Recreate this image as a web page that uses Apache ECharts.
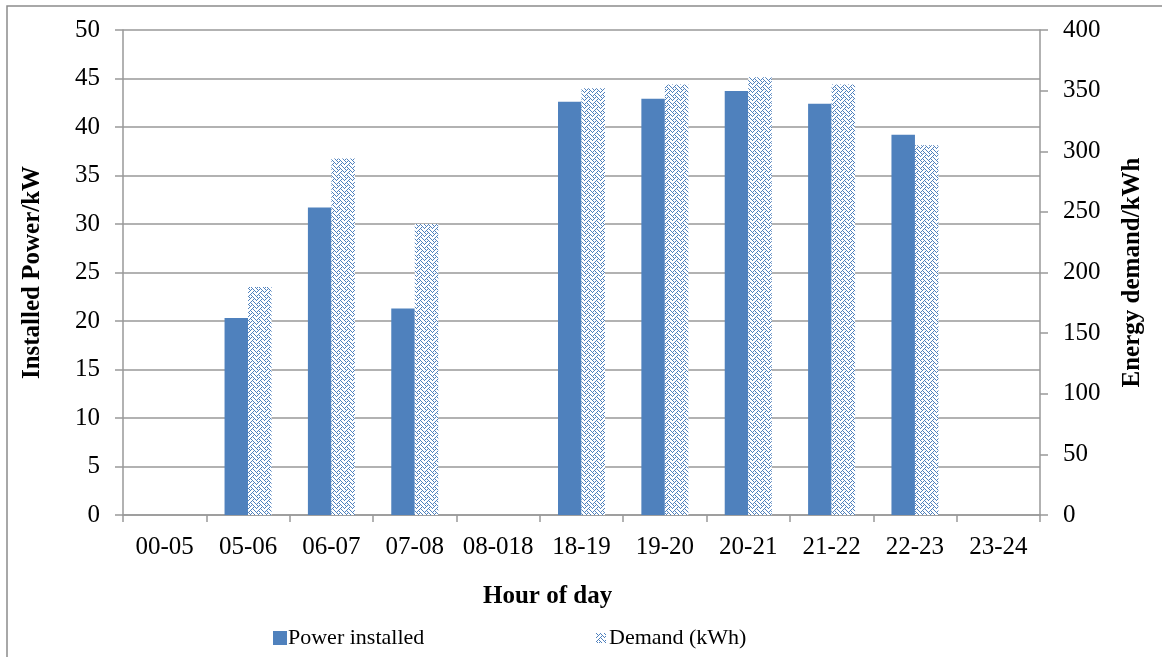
<!DOCTYPE html>
<html>
<head>
<meta charset="utf-8">
<script src="https://cdn.jsdelivr.net/npm/echarts@6/dist/echarts.min.js"></script>
<style>html,body{margin:0;padding:0;background:#fff;}#c{width:1162px;height:657px;}</style>
</head>
<body>
<div id="c"></div>
<script>
var categories = ['00-05','05-06','06-07','07-08','08-018','18-19','19-20','20-21','21-22','22-23','23-24'];
var powerInstalled = [0, 20.3, 31.7, 21.3, 0, 42.6, 42.9, 43.7, 42.4, 39.2, 0];
var demandKWh = [0, 188, 294, 240, 0, 352, 355, 361, 355, 305, 0];
var leftTicks = {min: 0, max: 50, interval: 5};
var rightTicks = {min: 0, max: 400, interval: 50};

function makePattern() {
  var rows = [0x88, 0x54, 0x22, 0x45, 0x88, 0x14, 0x22, 0x51];
  var c = document.createElement('canvas');
  c.width = 8; c.height = 8;
  var g = c.getContext('2d');
  g.fillStyle = '#ffffff';
  g.fillRect(0, 0, 8, 8);
  g.fillStyle = '#4f81bd';
  for (var y = 0; y < 8; y++) {
    for (var x = 0; x < 8; x++) {
      if (rows[y] & (0x80 >> x)) g.fillRect(x, y, 1, 1);
    }
  }
  return c;
}
var pat = makePattern();

var font = 'Liberation Serif';
var chart = echarts.init(document.getElementById('c'), null, {renderer: 'canvas'});
chart.setOption({
  animation: false,
  backgroundColor: '#fff',
  grid: {left: 123, right: 122, top: 30, bottom: 142, containLabel: false},
  legend: [
    {data: ['Power installed'], left: 268, top: 622, itemWidth: 14, itemHeight: 14, icon: 'rect',
     textStyle: {fontFamily: font, fontSize: 22, color: '#000', padding: [0, 0, 0, -4]}},
    {data: ['Demand (kWh)'], left: 591, top: 622, itemWidth: 10, itemHeight: 10, icon: 'rect',
     textStyle: {fontFamily: font, fontSize: 22, color: '#000', padding: [0, 0, 0, -2]}}
  ],
  graphic: [
    {type: 'rect', shape: {x: 7, y: 6, width: 1200, height: 700}, style: {fill: 'none', stroke: '#8c8c8c', lineWidth: 1.5}, silent: true},
    {type: 'text', left: 483, top: 584, style: {text: 'Hour of day', font: 'bold 25px "Liberation Serif"', fill: '#000'}}
  ],
  xAxis: {
    type: 'category', data: categories,
    axisLine: {lineStyle: {color: '#999', width: 1.5}},
    axisTick: {show: true, length: 7, lineStyle: {color: '#999', width: 1.5}},
    axisLabel: {fontFamily: font, fontSize: 25, color: '#000', margin: 20, interval: 0}
  },
  yAxis: [
    {type: 'value', min: leftTicks.min, max: leftTicks.max, interval: leftTicks.interval, position: 'left',
     name: 'Installed Power/kW', nameLocation: 'middle', nameGap: 78, nameRotate: 90,
     nameTextStyle: {fontFamily: font, fontSize: 25, fontWeight: 'bold', color: '#000'},
     axisLine: {show: true, lineStyle: {color: '#999', width: 1.5}},
     axisTick: {show: true, length: 8, lineStyle: {color: '#999', width: 1.5}},
     axisLabel: {fontFamily: font, fontSize: 25, color: '#000', margin: 23},
     splitLine: {show: true, lineStyle: {color: '#999', width: 1.5}}},
    {type: 'value', min: rightTicks.min, max: rightTicks.max, interval: rightTicks.interval, position: 'right',
     name: 'Energy demand/kWh', nameLocation: 'middle', nameGap: 80, nameRotate: 90,
     nameTextStyle: {fontFamily: font, fontSize: 25, fontWeight: 'bold', color: '#000'},
     axisLine: {show: true, lineStyle: {color: '#999', width: 1.5}},
     axisTick: {show: true, length: 8, lineStyle: {color: '#999', width: 1.5}},
     axisLabel: {fontFamily: font, fontSize: 25, color: '#000', margin: 23},
     splitLine: {show: false}}
  ],
  series: [
    {name: 'Power installed', type: 'bar', yAxisIndex: 0, data: powerInstalled,
     barWidth: 23.5, barGap: '0%', itemStyle: {color: '#4f81bd'}},
    {name: 'Demand (kWh)', type: 'bar', yAxisIndex: 1, data: demandKWh,
     barWidth: 23.5, itemStyle: {color: {image: pat, repeat: 'repeat'}}}
  ]
});
</script>
</body>
</html>
